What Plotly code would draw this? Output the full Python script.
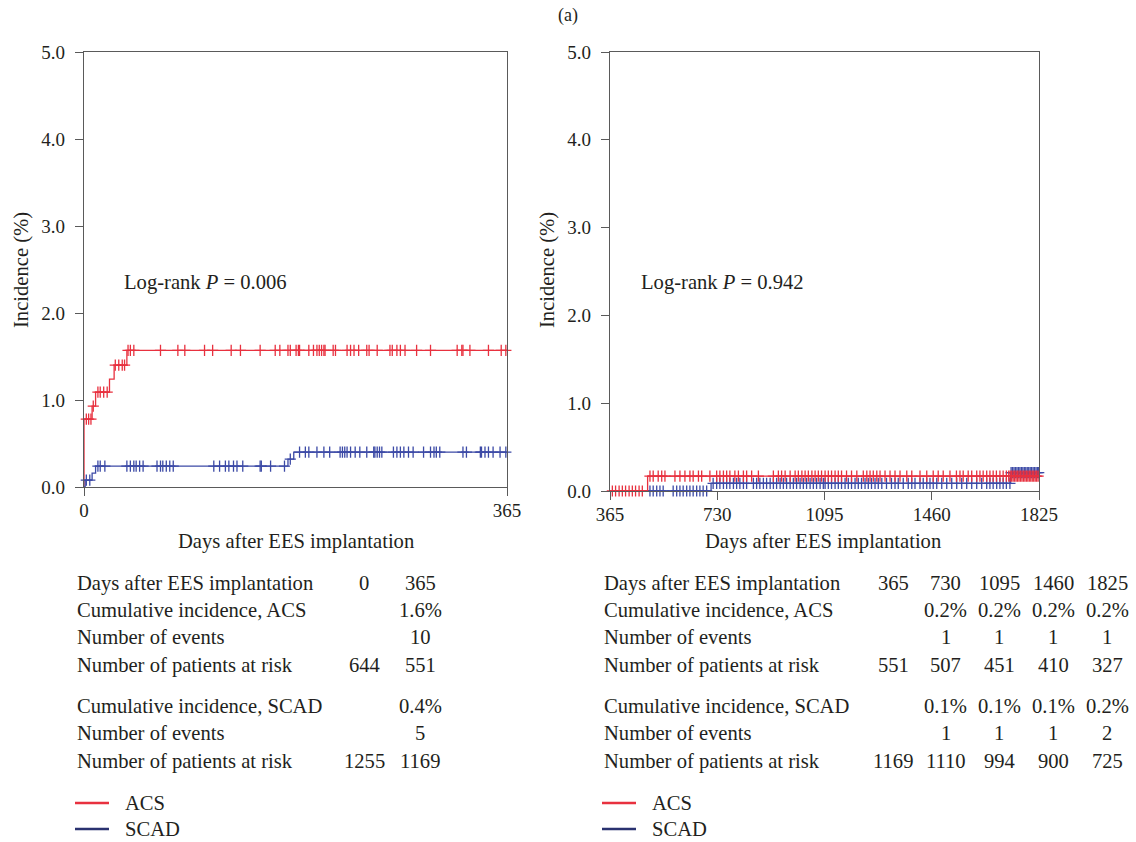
import numpy as np
import plotly.graph_objects as go

# ---------------- data ----------------
# Left panel (0-365 days)
acs1_event_days = [0, 0, 7, 10, 22, 26, 37, 365]
acs1_inc = [0.0, 0.78, 0.93, 1.09, 1.24, 1.40, 1.57, 1.57]
acs1_censor_days = [2, 4, 6, 8, 12, 14, 17, 20, 27, 30, 33, 35,
                    38, 40, 43, 66, 81, 87, 104, 111, 127, 135, 152, 165, 169,
                    176, 178, 183, 185, 186, 194, 198, 201, 203, 205, 207, 208,
                    215, 217, 227, 230, 233, 237, 244, 246, 253, 264, 266, 270,
                    273, 277, 287, 299, 322, 326, 327, 333, 349, 360, 364]

scad1_event_days = [0, 1, 7, 10, 176, 181, 365]
scad1_inc = [0.0, 0.08, 0.16, 0.24, 0.32, 0.40, 0.40]
scad1_censor_days = [2, 5, 12, 14, 18, 37, 40, 43, 45, 48, 51, 63, 66, 68, 71,
                     74, 77, 112, 117, 122, 125, 129, 132, 137, 152, 153, 161,
                     173, 178, 186, 191, 194, 201, 207, 212, 221, 223, 225, 227,
                     230, 234, 238, 244, 250, 251, 253, 255, 257, 267, 270, 273,
                     276, 280, 284, 293, 299, 302, 304, 307, 327, 330, 342, 343,
                     346, 349, 353, 359, 364]

# Right panel (365-1825 days)
acs2_event_days = [365, 493, 1825]
acs2_inc = [0.0, 0.17, 0.17]
acs2_censor_days = [373, 384, 396, 407, 418, 430, 441, 452, 464, 475,
                    501, 512, 529, 541, 552, 586, 603, 620, 637, 648, 666, 677,
                    705, 728, 739, 751, 762, 773, 790, 802, 819, 830, 847, 870,
                    921, 938, 949, 961, 978, 995, 1006, 1018, 1029, 1040, 1052,
                    1063, 1074, 1085, 1097, 1108, 1119, 1131, 1142, 1153, 1170,
                    1187, 1205, 1227, 1239, 1250, 1261, 1273, 1284, 1301, 1318,
                    1335, 1352, 1375, 1392, 1420, 1443, 1465, 1482, 1499, 1522,
                    1544, 1556, 1567, 1584, 1596, 1613, 1624, 1635, 1647, 1658,
                    1669, 1680, 1692, 1703, 1714, 1722, 1727, 1732, 1737, 1742,
                    1747, 1752, 1757, 1762, 1767, 1772, 1777, 1782, 1787, 1792,
                    1797, 1802, 1807, 1812, 1817, 1822]

scad2_event_days = [365, 709, 1728, 1825]
scad2_inc = [0.0, 0.086, 0.21, 0.21]
scad2_censor_days = [501, 512, 524, 535, 546, 580, 592, 603, 614, 626, 637, 648,
                     660, 671, 682, 694,
                     716, 728, 739, 751, 762, 773, 785, 796, 807, 819, 830, 853,
                     864, 875, 887, 898, 910, 921, 932, 944, 955, 966, 978, 989,
                     1000, 1012, 1023, 1034, 1046, 1057, 1068, 1080, 1091, 1097,
                     1108, 1119, 1131, 1142, 1153, 1165, 1176, 1187, 1199, 1210,
                     1221, 1233, 1244, 1255, 1267, 1278, 1290, 1306, 1323, 1335,
                     1346, 1363, 1380, 1392, 1403, 1420, 1431, 1443, 1454, 1465,
                     1477, 1494, 1511, 1528, 1545, 1562, 1579, 1596, 1613, 1630,
                     1647, 1658, 1669, 1681, 1692, 1703, 1714, 1726,
                     1730, 1735, 1740, 1745, 1750, 1755, 1760, 1765, 1770, 1775,
                     1780, 1785, 1790, 1795, 1800, 1805, 1810, 1815, 1820, 1824]

y_ticks = [0.0, 1.0, 2.0, 3.0, 4.0, 5.0]
x1_ticks = [0, 365]
x2_ticks = [365, 730, 1095, 1460, 1825]

p_left = "0.006"
p_right = "0.942"

# Risk tables
table_row_labels = ["Days after EES implantation", "Cumulative incidence, ACS",
                    "Number of events", "Number of patients at risk",
                    "Cumulative incidence, SCAD", "Number of events",
                    "Number of patients at risk"]
left_table = [["0", "365"], ["", "1.6%"], ["", "10"], ["644", "551"],
              ["", "0.4%"], ["", "5"], ["1255", "1169"]]
right_table = [["365", "730", "1095", "1460", "1825"],
               ["", "0.2%", "0.2%", "0.2%", "0.2%"],
               ["", "1", "1", "1", "1"],
               ["551", "507", "451", "410", "327"],
               ["", "0.1%", "0.1%", "0.1%", "0.2%"],
               ["", "1", "1", "1", "2"],
               ["1169", "1110", "994", "900", "725"]]
series_names = ["ACS", "SCAD"]

# ---------------- style ----------------
W, H = 1136, 842
FONT = "Liberation Serif, Times New Roman, DejaVu Serif, serif"
TXT = "#231f20"
RED = "#e8313f"
BLUE = "#3c4aa6"
RED_LEG = "#e8313f"
BLUE_LEG = "#2a3270"
AX = "#5a5a5a"
FS = 20.6


def px(x):
    return x / W


def py(y):
    return 1 - y / H


def step_val(days, inc, d):
    i = np.searchsorted(np.array(days), np.array(d), side="right") - 1
    return np.array(inc)[i]


fig = go.Figure()


def add_curve(days, inc, cens, color, xa, ya, name):
    fig.add_trace(go.Scatter(x=days, y=inc, mode="lines", line_shape="hv",
                             line=dict(color=color, width=1.3),
                             xaxis=xa, yaxis=ya, showlegend=False, name=name,
                             hoverinfo="skip", cliponaxis=False))
    fig.add_trace(go.Scatter(x=cens, y=step_val(days, inc, cens), mode="markers",
                             marker=dict(symbol="cross-thin", size=8,
                                         line=dict(color=color, width=1.3)),
                             xaxis=xa, yaxis=ya, showlegend=False, name=name,
                             cliponaxis=False))


add_curve(acs1_event_days, acs1_inc, acs1_censor_days, RED, "x", "y", "ACS")
add_curve(scad1_event_days, scad1_inc, scad1_censor_days, BLUE, "x", "y", "SCAD")
add_curve(scad2_event_days, scad2_inc, scad2_censor_days, BLUE, "x2", "y2", "SCAD")
add_curve(acs2_event_days, acs2_inc, acs2_censor_days, RED, "x2", "y2", "ACS")

axis_common = dict(showline=True, linecolor=AX, linewidth=1.3, mirror=True,
                   ticks="outside", ticklen=8, tickwidth=1.3, tickcolor=AX,
                   showgrid=False, zeroline=False, automargin=False,
                   tickfont=dict(family=FONT, size=19, color=TXT))

fig.update_layout(
    width=W, height=H, margin=dict(l=0, r=0, t=0, b=0, autoexpand=False),
    paper_bgcolor="white", plot_bgcolor="white", showlegend=False,
    font=dict(family=FONT, color=TXT),
    xaxis=dict(domain=[px(84), px(507)], range=[0, 365], tickvals=x1_ticks,
               ticklabelstandoff=-2, anchor="y", **axis_common),
    yaxis=dict(domain=[py(487), py(52)], range=[0, 5], tickvals=y_ticks,
               tickformat=".1f", ticklabelstandoff=6, anchor="x", **axis_common),
    xaxis2=dict(domain=[px(610), px(1039)], range=[365, 1825], tickvals=x2_ticks,
                ticklabelstandoff=-2, anchor="y2", **axis_common),
    yaxis2=dict(domain=[py(491), py(52)], range=[0, 5], tickvals=y_ticks,
                tickformat=".1f", ticklabelstandoff=6, anchor="x2", **axis_common),
)

ann = []
shapes = []


def text(x, y, s, size=FS, xanchor="left", angle=0):
    ann.append(dict(x=px(x), y=py(y), xref="paper", yref="paper", text=s,
                    showarrow=False, xanchor=xanchor, yanchor="middle",
                    textangle=angle, font=dict(family=FONT, size=size, color=TXT)))


# title
text(568, 16, "(a)", size=18, xanchor="center")
# axis titles
text(22, 270, "Incidence (%)", xanchor="center", angle=-90)
text(548, 270, "Incidence (%)", xanchor="center", angle=-90)
text(296, 541, "Days after EES implantation", xanchor="center")
text(823, 541, "Days after EES implantation", xanchor="center")
# log-rank
text(122, 282, f"Log-rank <i>P</i> = {p_left}")
text(639, 282, f"Log-rank <i>P</i> = {p_right}")

# tables
row_y = [583, 610, 637, 665, 706, 733, 761]
left_col_x = [364, 420]
right_col_x = [893, 946, 999, 1053, 1107]
for r, lab in enumerate(table_row_labels):
    text(75, row_y[r], lab)
    text(602, row_y[r], lab)
    for c, v in enumerate(left_table[r]):
        if v:
            text(left_col_x[c], row_y[r], v, xanchor="center")
    for c, v in enumerate(right_table[r]):
        if v:
            text(right_col_x[c], row_y[r], v, xanchor="center")

# legends
leg_y = [803, 829]
leg_cols = [RED_LEG, BLUE_LEG]
for x0 in (75, 602):
    for i, nm in enumerate(series_names):
        shapes.append(dict(type="line", xref="paper", yref="paper",
                           x0=px(x0), x1=px(x0 + 34), y0=py(leg_y[i]), y1=py(leg_y[i]),
                           line=dict(color=leg_cols[i], width=2.5)))
        text(x0 + 48, leg_y[i], nm)

fig.update_layout(annotations=ann, shapes=shapes)
fig.write_html("out.html", config={"displayModeBar": False},
               post_script="document.body.style.margin='0';"
                           "document.body.style.overflow='hidden';")
